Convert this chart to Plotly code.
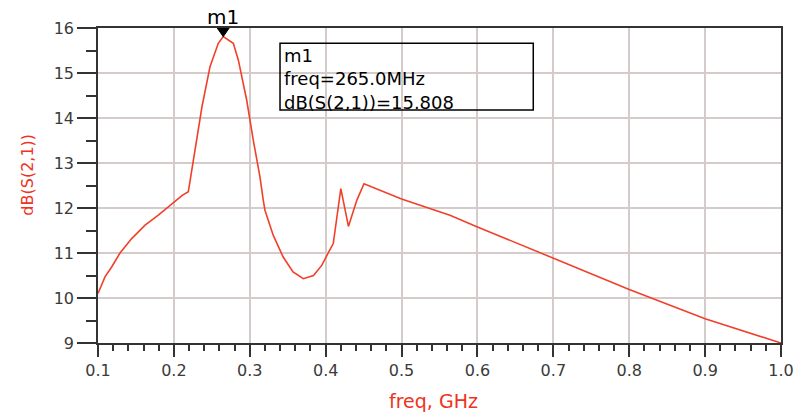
import plotly.graph_objects as go

# ---- data ----
freq_ghz = [0.100, 0.1092, 0.118, 0.129, 0.1444, 0.162, 0.1795, 0.2005,
            0.211, 0.219, 0.237, 0.2476, 0.2585, 0.265, 0.2783, 0.2849,
            0.2959, 0.3046, 0.3134, 0.3178, 0.320, 0.331, 0.344, 0.357,
            0.3705, 0.384, 0.395, 0.403, 0.410, 0.420, 0.430, 0.441,
            0.4505, 0.500, 0.5638, 0.600, 0.700, 0.800, 0.900, 1.000]
s21_db = [10.10, 10.47, 10.69, 11.00, 11.32, 11.62, 11.84, 12.14,
          12.28, 12.36, 14.25, 15.14, 15.66, 15.808, 15.66, 15.29,
          14.40, 13.51, 12.69, 12.17, 11.95, 11.39, 10.91, 10.58,
          10.43, 10.50, 10.73, 10.99, 11.21, 12.43, 11.59, 12.17,
          12.54, 12.20, 11.84, 11.58, 10.88, 10.19, 9.54, 9.00]

marker_name = "m1"
marker_freq = 0.265
marker_val = 15.808

x_ticks = [0.1, 0.2, 0.3, 0.4, 0.5, 0.6, 0.7, 0.8, 0.9, 1.0]
y_ticks = [9, 10, 11, 12, 13, 14, 15, 16]

RED = "#f0402a"
TXT_RED = "#ee3322"
GRID = "#d5cbcb"
AXIS = "#333333"
FONT = "DejaVu Sans"

fig = go.Figure()
fig.add_trace(go.Scatter(x=freq_ghz, y=s21_db, mode="lines",
                         line=dict(color=RED, width=1.6), hoverinfo="x+y",
                         showlegend=False))

# marker triangle, anchored at the marker point
fig.add_shape(type="path", xref="x", yref="y",
              xsizemode="pixel", ysizemode="pixel",
              xanchor=marker_freq, yanchor=marker_val,
              path="M0,0 L-7,10 L7,10 Z",
              fillcolor="black", line=dict(color="black", width=1))
fig.add_annotation(x=marker_freq, y=marker_val, xref="x", yref="y",
                   text=marker_name, showarrow=False, yshift=20,
                   font=dict(family=FONT, size=20, color="black"))

# marker readout box
fig.add_shape(type="rect", xref="paper", yref="paper",
              x0=0.2665, x1=0.6373, y0=0.7397, y1=0.9514,
              line=dict(color="black", width=1.5), fillcolor="rgba(0,0,0,0)")
readout = [marker_name,
           f"freq={marker_freq*1000:.1f}MHz",
           f"dB(S(2,1))={marker_val:.3f}"]
fig.add_annotation(x=0.2709, y=0.838, xref="paper", yref="paper",
                   text="<br>".join(readout), showarrow=False,
                   xanchor="left", yanchor="middle", align="left",
                   borderpad=0,
                   font=dict(family=FONT, size=18, color="black"))

# axis titles
fig.add_annotation(x=0.4905, y=-0.184, xref="paper", yref="paper",
                   text="freq, GHz", showarrow=False, yanchor="middle",
                   font=dict(family=FONT, size=19, color=TXT_RED))
fig.add_annotation(x=-0.12, y=0.533, xref="paper", yref="paper",
                   text="dB(S(2,1))", showarrow=False, textangle=-90,
                   font=dict(family=FONT, size=16, color=TXT_RED))

fig.update_xaxes(range=[0.1, 1.0], tickvals=x_ticks,
                 ticktext=[f"{v:.1f}" for v in x_ticks],
                 showgrid=True, gridcolor=GRID, gridwidth=1.5,
                 showline=True, linecolor=AXIS, linewidth=1.5, mirror=True,
                 ticks="outside", ticklen=12, tickwidth=1.5, tickcolor=AXIS,
                 minor=dict(dtick=0.02, tick0=0.1, ticks="outside", ticklen=6,
                            tickwidth=1.5, tickcolor=AXIS, showgrid=False),
                 tickfont=dict(family=FONT, size=16, color="#3a3a3a"),
                 zeroline=False, automargin=False)
fig.update_yaxes(range=[9, 16], tickvals=y_ticks,
                 showgrid=True, gridcolor=GRID, gridwidth=1.5,
                 showline=True, linecolor=AXIS, linewidth=1.5, mirror=True,
                 ticks="outside", ticklen=19, tickwidth=1.5, tickcolor=AXIS,
                 minor=dict(dtick=0.5, tick0=9, ticks="outside", ticklen=10,
                            tickwidth=1.5, tickcolor=AXIS, showgrid=False),
                 tickfont=dict(family=FONT, size=16, color="#3a3a3a"),
                 zeroline=False, automargin=False)

fig.update_layout(width=795, height=413,
                  margin=dict(l=98, r=14, t=28, b=70),
                  plot_bgcolor="white", paper_bgcolor="white",
                  showlegend=False)

fig.write_html("out.html")
